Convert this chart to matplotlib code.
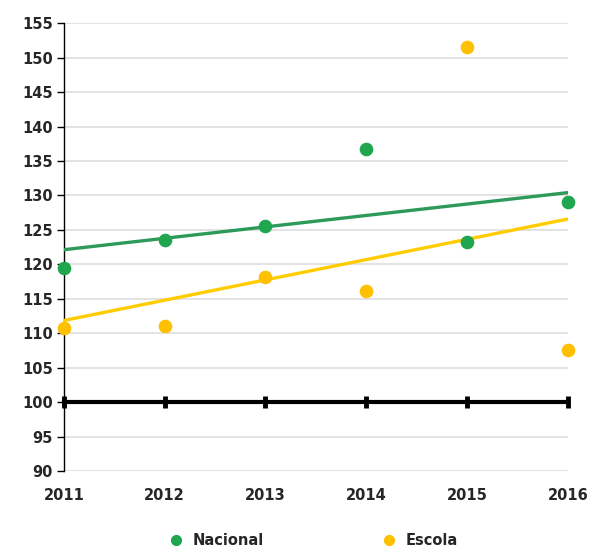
import matplotlib
matplotlib.use("Agg")
import matplotlib.pyplot as plt
import numpy as np

years = [2011, 2012, 2013, 2014, 2015, 2016]
nacional = [119.5, 123.5, 125.6, 136.7, 123.3, 129.0]
escola = [110.8, 111.1, 118.2, 116.1, 151.5, 107.6]
yticks = list(range(90, 160, 5))

greenDot = "#1fa64f"
greenLine = "#2e9a5a"
yellowDot = "#ffc000"
yellowLine = "#ffcc00"
textColor = "#262626"

fig = plt.figure(figsize=(5.91, 5.51), dpi=100)
ax = fig.add_axes([0.108, 0.145, 0.853, 0.813])

# light grid
for y in yticks:
    ax.axhline(y, color="#dedede", lw=1.2, zorder=0)

# reference line at 100 with tick marks
ax.plot(years, [100] * len(years), color="black", lw=3, zorder=2,
        marker="|", markersize=9, markeredgewidth=3.5, clip_on=False)

# trend lines
x = np.array(years)
for vals, col in [(nacional, greenLine), (escola, yellowLine)]:
    p = np.polyfit(x, vals, 1)
    ax.plot(x, np.polyval(p, x), color=col, lw=2.4, zorder=3)

ax.plot(years, nacional, 'o', color=greenDot, markersize=8.8, zorder=4,
        clip_on=False, label="Nacional")
ax.plot(years, escola, 'o', color=yellowDot, markersize=8.8, zorder=4,
        clip_on=False, label="Escola")

ax.set_xlim(2011, 2016)
ax.set_ylim(90, 155)
ax.set_yticks(yticks)
ax.set_xticks(years)
for s in ["top", "right", "bottom"]:
    ax.spines[s].set_visible(False)
ax.spines["left"].set_color("black")
ax.spines["left"].set_linewidth(1)
ax.tick_params(axis="y", length=5, width=1, color="black", pad=3,
               labelsize=10.5, labelcolor=textColor)
ax.tick_params(axis="x", length=0, pad=12, labelsize=10.5, labelcolor=textColor)
for lab in ax.get_xticklabels() + ax.get_yticklabels():
    lab.set_fontweight("bold")

leg = fig.legend(loc="lower center", bbox_to_anchor=(0.524, -0.018), ncol=2,
                 frameon=False, columnspacing=7.6, handletextpad=0.1,
                 markerscale=0.8, prop={"weight": "bold", "size": 10.5})
for t in leg.get_texts():
    t.set_color(textColor)

plt.savefig("out.png", dpi=100)
